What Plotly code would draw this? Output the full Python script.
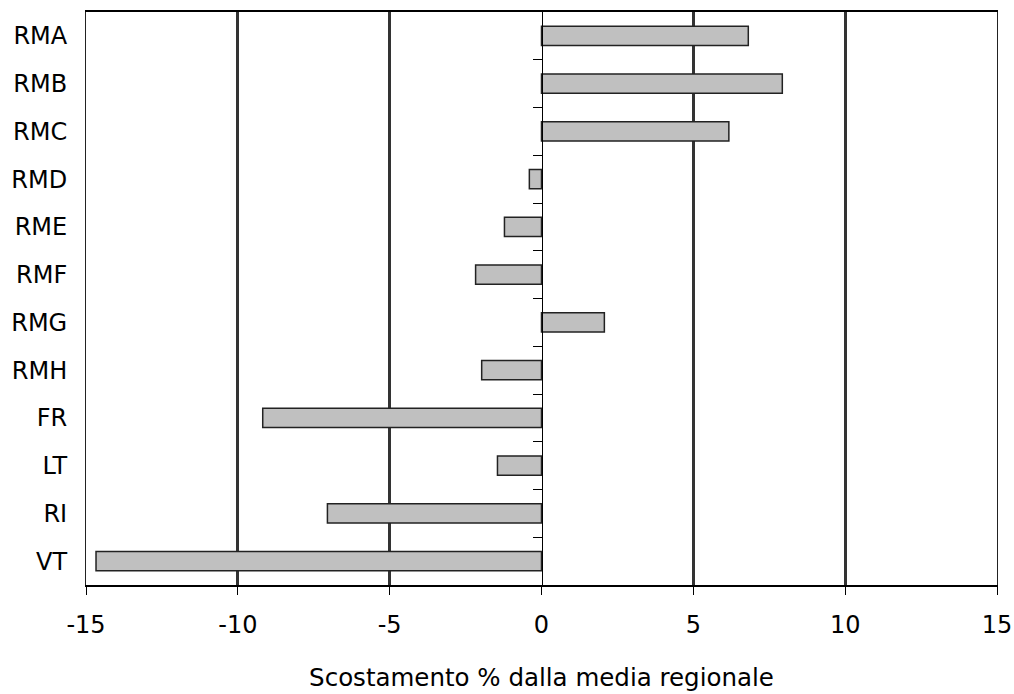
import plotly.graph_objects as go

categories = ["RMA", "RMB", "RMC", "RMD", "RME", "RMF", "RMG", "RMH", "FR", "LT", "RI", "VT"]
values = [6.81, 7.93, 6.17, -0.40, -1.22, -2.17, 2.07, -1.97, -9.18, -1.45, -7.05, -14.67]
x_ticks = [-15, -10, -5, 0, 5, 10, 15]
grid_vals = [-10, -5, 5, 10]
boundaries = [i + 0.5 for i in range(len(categories) - 1)]

FONT = "DejaVu Sans, Verdana, sans-serif"

fig = go.Figure()
fig.add_trace(go.Bar(
    y=categories, x=values, orientation="h",
    marker=dict(color="#c0c0c0", line=dict(color="#222222", width=1.5)),
    width=0.4, showlegend=False, hoverinfo="x+y",
))
# helper trace to bind overlay axes (grid + zero axis with ticks)
fig.add_trace(go.Scatter(
    x=values, y=list(range(len(categories))), xaxis="x2", yaxis="y2",
    mode="markers", marker=dict(opacity=0), showlegend=False, hoverinfo="skip",
))

fig.update_layout(
    width=1014, height=694,
    margin=dict(l=86, r=17, t=12, b=109, autoexpand=False),
    paper_bgcolor="white", plot_bgcolor="white",
    font=dict(family=FONT, size=24, color="black"),
    bargap=0.6,
    xaxis=dict(
        range=[-15, 15], tickvals=x_ticks, ticktext=[str(v) for v in x_ticks],
        showgrid=False, zeroline=False, automargin=False,
        showline=True, linecolor="black", linewidth=1.5, mirror=True,
        ticks="outside", ticklen=8, tickcolor="black", tickwidth=1,
        tickfont=dict(family=FONT, size=24),
        ticklabelstandoff=9,
        title=dict(text="Scostamento % dalla media regionale",
                   font=dict(family=FONT, size=24.5), standoff=31),
    ),
    xaxis2=dict(
        range=[-15, 15], overlaying="x", anchor="y", automargin=False,
        tickvals=grid_vals, showticklabels=False, ticks="",
        showgrid=True, gridcolor="#333333", gridwidth=2.5,
        zeroline=False, showline=False,
    ),
    yaxis=dict(
        type="category", categoryorder="array", categoryarray=categories,
        range=[11.5, -0.5], automargin=False,
        showgrid=False, zeroline=False,
        showline=True, linecolor="#222222", linewidth=1, mirror=True,
        ticks="", tickfont=dict(family=FONT, size=24),
        ticklabelstandoff=13,
    ),
    yaxis2=dict(
        range=[11.5, -0.5], overlaying="y", anchor="free", position=0.5,
        tickvals=boundaries, showticklabels=False, automargin=False,
        ticks="outside", ticklen=9, tickcolor="black", tickwidth=1,
        showgrid=False, zeroline=False,
        showline=True, linecolor="black", linewidth=1,
    ),
)

fig.write_html(
    "out.html",
    config={"displayModeBar": False},
    post_script="document.body.style.margin='0';document.body.style.overflow='hidden';",
)
